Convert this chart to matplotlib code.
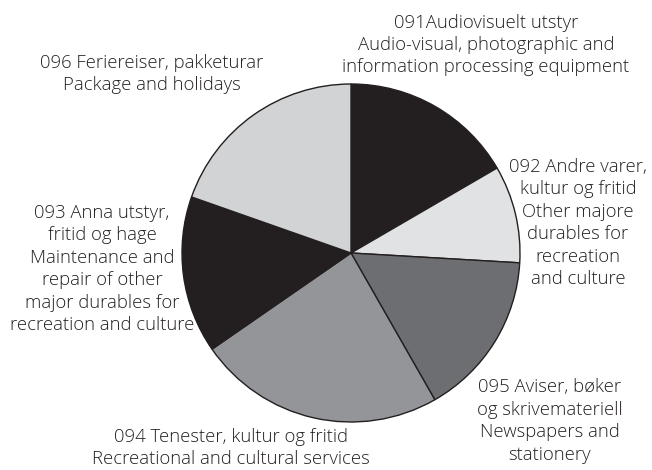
import matplotlib
matplotlib.use("Agg")
import matplotlib.pyplot as plt

plt.rcParams['font.family'] = ['Open Sans', 'DejaVu Sans']

codes = ["091", "092", "095", "094", "093", "096"]
shares = [16.6, 9.3, 15.8, 23.6, 15.0, 19.6]
colors = ["#231f20", "#e1e2e4", "#6d6e71", "#939598", "#231f20", "#d1d3d4"]
labels = [
    "091Audiovisuelt utstyr\nAudio-visual, photographic and\ninformation processing equipment",
    "092 Andre varer,\nkultur og fritid\nOther majore\ndurables for\nrecreation\nand culture",
    "095 Aviser, bøker\nog skrivemateriell\nNewspapers and\nstationery",
    "094 Tenester, kultur og fritid\nRecreational and cultural services",
    "093 Anna utstyr,\nfritid og hage\nMaintenance and\nrepair of other\nmajor durables for\nrecreation and culture",
    "096 Feriereiser, pakketurar\nPackage and holidays",
]
# label block centres in pixel coords (x, y from bottom)
label_pos = [(486, 425), (578, 247), (550, 49), (231, 22), (102, 201), (152, 396)]

fig = plt.figure(figsize=(6.52, 4.70), dpi=100)
ax = fig.add_axes([0, 0, 1, 1])

ax.pie(shares, colors=colors, startangle=90, counterclock=False,
       center=(351, 217), radius=169,
       wedgeprops=dict(edgecolor="#231f20", linewidth=1.0))

for lab, (x, y) in zip(labels, label_pos):
    ax.text(x, y, lab, ha="center", va="center", fontsize=13.3,
            fontweight=300, linespacing=1.31, color="#231f20")

ax.set_xlim(0, 652)
ax.set_ylim(0, 470)
ax.set_aspect("equal")
ax.axis("off")

fig.savefig("out.png", dpi=100)
